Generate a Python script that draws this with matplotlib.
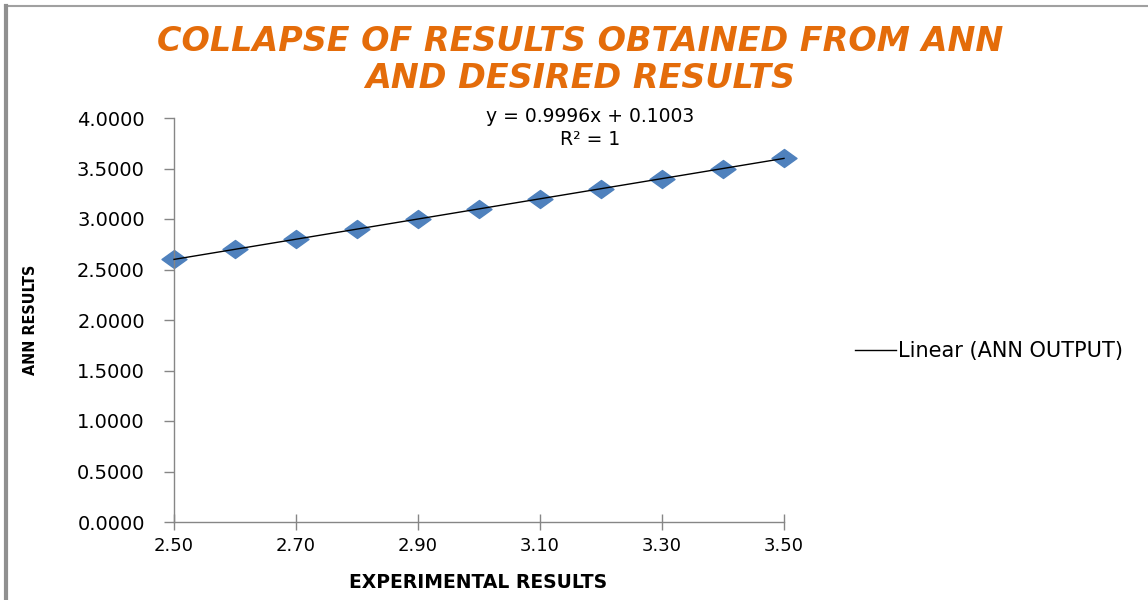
import matplotlib
matplotlib.use("Agg")
import matplotlib.pyplot as plt
import numpy as np
from matplotlib.path import Path
from matplotlib.lines import Line2D

experimental = [2.50, 2.60, 2.70, 2.80, 2.90, 3.00, 3.10, 3.20, 3.30, 3.40, 3.50]
ann_output = [2.60, 2.70, 2.80, 2.90, 3.00, 3.10, 3.20, 3.30, 3.40, 3.50, 3.60]
x_ticks = [2.50, 2.70, 2.90, 3.10, 3.30, 3.50]
y_ticks = [0.0, 0.5, 1.0, 1.5, 2.0, 2.5, 3.0, 3.5, 4.0]
title = "COLLAPSE OF RESULTS OBTAINED FROM ANN\nAND DESIRED RESULTS"
equation = "y = 0.9996x + 0.1003\nR² = 1"

fig = plt.figure(figsize=(11.48, 6.0), dpi=100)
fig.patch.set_facecolor("white")
ax = fig.add_axes([174/1148, 1-522/600, (784-174)/1148, (522-118)/600])

diamond = Path([(-1, 0), (0, 0.72), (1, 0), (0, -0.72), (-1, 0)],
               [Path.MOVETO, Path.LINETO, Path.LINETO, Path.LINETO, Path.CLOSEPOLY])

ax.plot(experimental, ann_output, linestyle="none", marker=diamond, markersize=18,
        color="#4F81BD", markeredgecolor="#4F81BD", zorder=2, clip_on=False)
coef = np.polyfit(experimental, ann_output, 1)
xf = np.array([experimental[0], experimental[-1]])
ax.plot(xf, np.polyval(coef, xf), color="black", linewidth=1.0, zorder=3, clip_on=False)

ax.set_xlim(2.5, 3.5)
ax.set_ylim(0, 4)
ax.set_xticks(x_ticks)
ax.set_yticks(y_ticks)
ax.set_xticklabels([f"{v:.2f}" for v in x_ticks])
ax.set_yticklabels([f"{v:.4f}" for v in y_ticks])
for s in ["top", "right"]:
    ax.spines[s].set_visible(False)
for s in ["left", "bottom"]:
    ax.spines[s].set_color("#868686")
    ax.spines[s].set_linewidth(1.0)
ax.tick_params(axis="both", colors="#868686", labelcolor="black",
               length=7, width=1.0)
ax.tick_params(axis="x", direction="inout", length=12, pad=5, labelsize=13)
ax.tick_params(axis="y", pad=14, labelsize=14)
for lbl in ax.get_xticklabels() + ax.get_yticklabels():
    lbl.set_family("DejaVu Sans")

ax.set_xlabel("EXPERIMENTAL RESULTS", fontsize=13.5, fontweight="bold")
ax.xaxis.set_label_coords((478-174)/(784-174), -(573-522)/(522-118))
ax.set_ylabel("ANN RESULTS", fontsize=11.5, fontweight="bold", fontstretch="condensed",
              family="DejaVu Sans")
ax.yaxis.set_label_coords(-(174-38)/(784-174), (522-320)/(522-118))

fig.text(580/1148, 1-60/600, title, ha="center", va="center", fontsize=24,
         fontweight="bold", style="oblique", color="#E46C0A", family="DejaVu Sans",
         linespacing=1.12)

fig.text(590/1148, 1-128/600, equation, ha="center", va="center",
         fontsize=13.5, linespacing=1.25, family="DejaVu Sans")

handle = Line2D([0], [0], color="black", linewidth=1.0)
fig.legend([handle], ["Linear (ANN OUTPUT)"], loc="center left",
           bbox_to_anchor=(836/1148, 1-351/600), frameon=False,
           handlelength=2.0, handletextpad=0.1, prop={"family": "DejaVu Sans", "size": 15})

# outer chart border (top and left)
fig.add_artist(Line2D([5/1148, 1], [1-6/600, 1-6/600], color="#A0A0A0", linewidth=1.5))
fig.add_artist(Line2D([6/1148, 6/1148], [0, 1-6/600], color="#909090", linewidth=3))

fig.savefig("out.png", dpi=100, facecolor="white")
